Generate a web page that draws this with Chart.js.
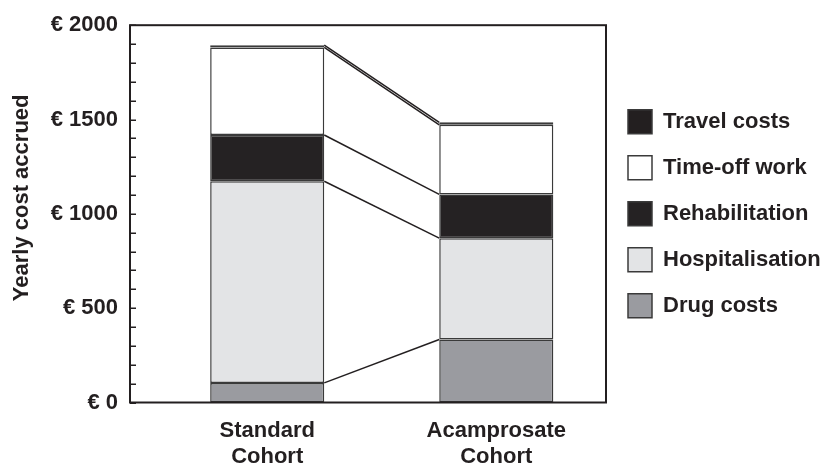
<!DOCTYPE html>
<html><head><meta charset="utf-8">
<script src="https://cdn.jsdelivr.net/npm/chart.js@4"></script>
<style>html,body{margin:0;padding:0;background:#fff}</style>
</head><body>
<canvas id="c" width="824" height="466"></canvas>
<script>
const cohortLabels = [['Standard', 'Cohort'], ['Acamprosate', 'Cohort']];
const drugCosts = [104, 334];
const hospitalisation = [1069, 537];
const rehabilitation = [245, 232];
const timeOffWork = [464, 369];
const travelCosts = [12, 13];
const seriesNames = ['Drug costs', 'Hospitalisation', 'Rehabilitation', 'Time-off work', 'Travel costs'];
const yTickValues = [0, 500, 1000, 1500, 2000];
const yTickLabels = ['€ 0', '€ 500', '€ 1000', '€ 1500', '€ 2000'];
const yTitle = 'Yearly cost accrued';

const INK = '#231f20';
const FONT = "'Liberation Sans', Arial, sans-serif";
Chart.defaults.font.family = FONT;
Chart.defaults.font.weight = 'bold';
Chart.defaults.font.size = 22;
Chart.defaults.color = INK;

const toPoints = arr => arr.map((v, i) => ({x: i, y: v}));
const fills = ['#9a9ba0', '#e3e4e6', '#252223', '#ffffff', '#231f20'];
const seriesValues = [drugCosts, hospitalisation, rehabilitation, timeOffWork, travelCosts];

const datasets = seriesValues.map((vals, k) => ({
  label: seriesNames[k],
  data: toPoints(vals),
  backgroundColor: fills[k],
  borderColor: '#3a3a3a',
  borderWidth: 1.5,
  borderSkipped: false,
  barPercentage: 0.498,
  categoryPercentage: 1
}));

const framePlugin = {
  id: 'frame',
  afterDatasetsDraw(chart) {
    const ctx = chart.ctx;
    ctx.save();
    ctx.strokeStyle = INK;
    ctx.lineWidth = 1.5;
    chart.data.datasets.forEach((d, i) => {
      const m = chart.getDatasetMeta(i);
      const a = m.data[0], b = m.data[1];
      ctx.beginPath();
      ctx.moveTo(a.x + a.width / 2, a.y);
      ctx.lineTo(b.x - b.width / 2, b.y);
      ctx.stroke();
    });
    ctx.restore();
  },
  afterDraw(chart) {
    const {ctx, chartArea: ca} = chart;
    const y = chart.scales.y;
    ctx.save();
    ctx.strokeStyle = INK;
    ctx.lineWidth = 2;
    ctx.strokeRect(ca.left, ca.top, ca.right - ca.left, ca.bottom - ca.top);
    ctx.lineWidth = 1.5;
    y.ticks.forEach(t => {
      const py = Math.round(y.getPixelForValue(t.value)) + 0.25;
      ctx.beginPath();
      ctx.moveTo(ca.left, py);
      ctx.lineTo(ca.left + 6, py);
      ctx.stroke();
    });
    ctx.fillStyle = INK;
    ctx.font = 'bold 22px ' + FONT;
    ctx.translate(22, (ca.top + ca.bottom) / 2 - 16);
    ctx.rotate(-Math.PI / 2);
    ctx.textAlign = 'center';
    ctx.textBaseline = 'middle';
    ctx.fillText(yTitle, 0, 0);
    ctx.restore();
  }
};

new Chart(document.getElementById('c'), {
  type: 'bar',
  data: {datasets},
  plugins: [framePlugin],
  options: {
    responsive: false,
    animation: false,
    devicePixelRatio: 1,
    layout: {padding: {top: 21, right: 4, bottom: 0, left: 0}},
    plugins: {
      tooltip: {enabled: false},
      legend: {
        position: 'right',
        fullSize: false,
        reverse: true,
        align: 'center',
        maxWidth: 214,
        labels: {boxWidth: 24, boxHeight: 24, padding: 22, color: INK, font: {size: 22, weight: 'bold'}}
      }
    },
    scales: {
      x: {
        type: 'linear',
        stacked: true,
        offset: false,
        min: -0.599,
        max: 1.479,
        afterBuildTicks: s => { s.ticks = cohortLabels.map((_, i) => ({value: i})); },
        afterFit: s => { s.height = 63.5; },
        ticks: {
          padding: 15,
          autoSkip: false,
          maxRotation: 0,
          font: {size: 22, weight: 'bold', lineHeight: 1.18},
          callback: v => cohortLabels[v] || ''
        },
        grid: {display: false, drawTicks: false, offset: false},
        border: {display: false}
      },
      y: {
        stacked: true,
        min: 0,
        max: 2000,
        afterFit: s => { s.width = 130; },
        ticks: {
          stepSize: 100,
          autoSkip: false,
          padding: 12,
          callback: v => { const i = yTickValues.indexOf(v); return i >= 0 ? yTickLabels[i] : ''; }
        },
        grid: {display: false, drawTicks: false},
        border: {display: false}
      }
    }
  }
});
</script>
</body></html>
